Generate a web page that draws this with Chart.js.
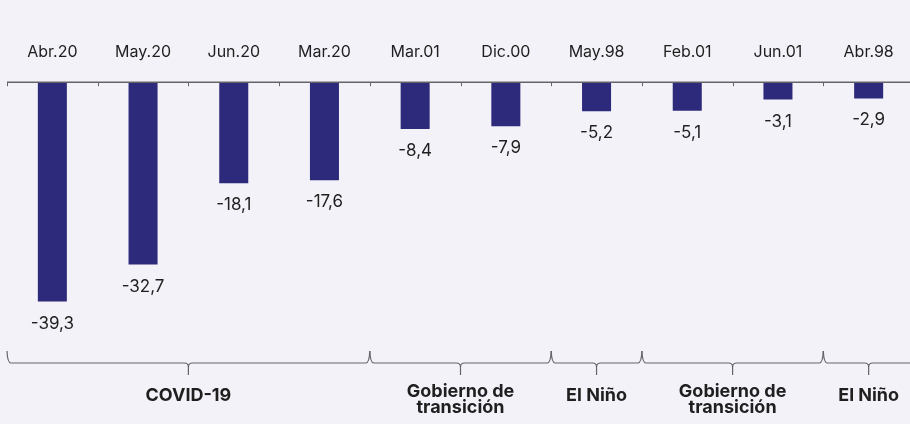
<!DOCTYPE html>
<html>
<head>
<meta charset="utf-8">
<script src="https://cdn.jsdelivr.net/npm/chart.js@4.4.1/dist/chart.umd.min.js"></script>
<style>
  html, body { margin: 0; padding: 0; background: #f2f2f8; overflow: hidden; }
  .wrap { width: 916px; height: 424px; position: relative; }
</style>
</head>
<body>
<div class="wrap"><canvas id="chart"></canvas></div>
<script>
// data
const categories = ["Abr.20", "May.20", "Jun.20", "Mar.20", "Mar.01", "Dic.00", "May.98", "Feb.01", "Jun.01", "Abr.98"];
const values = [-39.3, -32.7, -18.1, -17.6, -8.4, -7.9, -5.2, -5.1, -3.1, -2.9];
const groupLabels = ["COVID-19", "Gobierno de\ntransición", "El Niño", "Gobierno de\ntransición", "El Niño"];
const groupSizes = [4, 2, 1, 2, 1];

const fontFamily = "Inter, 'Open Sans', sans-serif";
const textColor = "#1f1f1f";
const lineColor = "#646468";

// zero line, value labels and group braces
const extras = {
  id: "extras",
  afterDatasetsDraw(chart) {
    const { ctx, chartArea, scales } = chart;
    const x = scales.x;
    const zeroY = scales.y.getPixelForValue(0);
    const half = (x.getPixelForValue(1) - x.getPixelForValue(0)) / 2;

    ctx.save();
    // axis line at zero
    ctx.strokeStyle = lineColor;
    ctx.lineWidth = 1.6;
    ctx.beginPath();
    ctx.moveTo(chartArea.left, zeroY);
    ctx.lineTo(chartArea.right + 10, zeroY);
    ctx.stroke();
    // small ticks between categories
    ctx.lineWidth = 1;
    for (let i = 0; i <= categories.length; i++) {
      const tx = Math.round(x.getPixelForValue(i) - half) + 0.5;
      ctx.beginPath();
      ctx.moveTo(tx, zeroY);
      ctx.lineTo(tx, zeroY + 4);
      ctx.stroke();
    }

    // value labels under bars
    const meta = chart.getDatasetMeta(0);
    ctx.fillStyle = textColor;
    ctx.font = "17px " + fontFamily;
    ctx.textAlign = "center";
    ctx.textBaseline = "middle";
    meta.data.forEach((bar, i) => {
      ctx.fillText(values[i].toFixed(1).replace(".", ","), bar.x, bar.y + 22);
    });

    // braces
    const lineY = 363;
    const topY = 351;
    const tickY = 375;
    ctx.strokeStyle = lineColor;
    ctx.lineWidth = 1.2;
    let start = 0;
    groupSizes.forEach((size, g) => {
      const x0 = x.getPixelForValue(start) - half;
      const x1 = x.getPixelForValue(start + size - 1) + half;
      const cx = (x0 + x1) / 2;
      const r = 4;
      ctx.beginPath();
      ctx.moveTo(x0, topY);
      ctx.quadraticCurveTo(x0 + 0.5, lineY, x0 + r, lineY);
      ctx.lineTo(cx - r, lineY);
      ctx.quadraticCurveTo(cx, lineY, cx, lineY + r);
      ctx.quadraticCurveTo(cx, lineY, cx + r, lineY);
      ctx.lineTo(x1 - r, lineY);
      ctx.quadraticCurveTo(x1 - 0.5, lineY, x1, topY);
      ctx.stroke();
      ctx.beginPath();
      ctx.moveTo(cx, lineY + r);
      ctx.lineTo(cx, tickY);
      ctx.stroke();

      // group label
      ctx.font = "bold 18px " + fontFamily;
      ctx.fillStyle = textColor;
      const lines = groupLabels[g].split("\n");
      if (lines.length === 1) {
        ctx.fillText(lines[0], cx, 396);
      } else {
        ctx.fillText(lines[0], cx, 392);
        ctx.fillText(lines[1], cx, 408);
      }
      start += size;
    });
    ctx.restore();
  },
};

new Chart(document.getElementById("chart"), {
  type: "bar",
  data: {
    labels: categories,
    datasets: [
      {
        data: values,
        backgroundColor: "#2e2a7b",
        borderWidth: 0,
        barPercentage: 0.32,
        categoryPercentage: 1,
      },
    ],
  },
  options: {
    responsive: true,
    maintainAspectRatio: false,
    animation: false,
    layout: {
      padding: { top: 31, left: 7, right: 2, bottom: 83 },
    },
    scales: {
      x: {
        position: "top",
        grid: { display: false },
        border: { display: false },
        ticks: {
          color: textColor,
          padding: 12,
          maxRotation: 0,
          font: { family: fontFamily, size: 16 },
        },
      },
      y: {
        display: false,
        min: -46.4,
        max: 0,
      },
    },
    plugins: {
      legend: { display: false },
      tooltip: { enabled: false },
    },
  },
  plugins: [extras],
});
</script>
</body>
</html>
